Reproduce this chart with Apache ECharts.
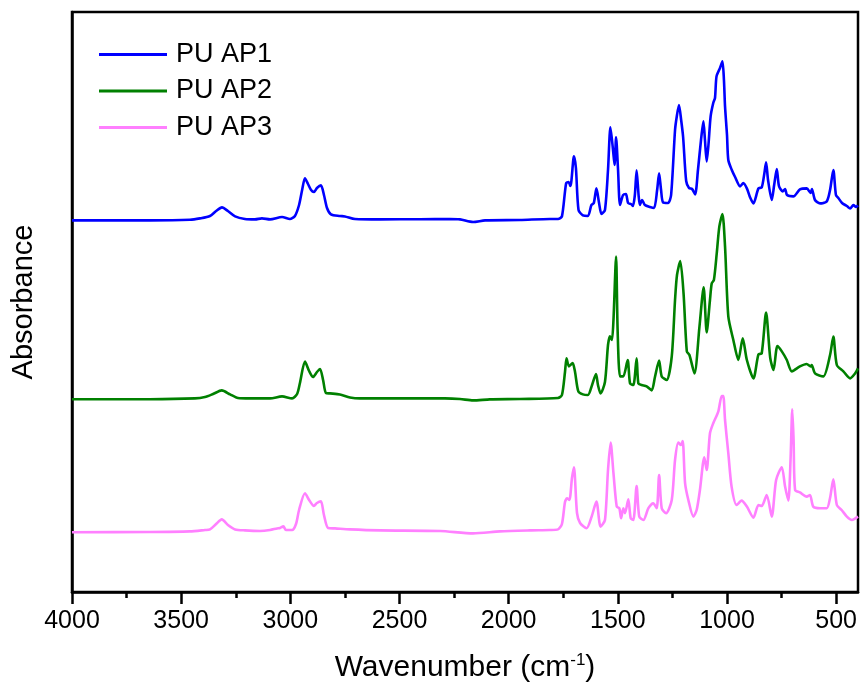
<!DOCTYPE html>
<html>
<head>
<meta charset="utf-8">
<title>FTIR spectra of PU AP1–AP3</title>
<script src="https://cdn.jsdelivr.net/npm/echarts@6/dist/echarts.min.js"></script>
<style>
  html, body { margin: 0; padding: 0; background: #fff; }
  #chart { width: 860px; height: 686px; }
</style>
</head>
<body>
<div id="chart"></div>
<script>
// Wavenumber axis ticks (cm-1)
const majorTicks = [500, 1000, 1500, 2000, 2500, 3000, 3500, 4000];
const minorTicks = [750, 1250, 1750, 2250, 2750, 3250, 3750];

// PU AP1 (stacked, offset absorbance)
const ap1Wn = [4000,3643,3460,3414,3368,3340,3313,3286,3253,3208,3162,3130,3093,3038,3002,2979,2960,2946,2933,2919,2905,2892,2878,2860,2846,2832,2814,2773,2750,2704,2589,2406,2269,2223,2163,2108,1948,1811,1774,1756,1737,1726,1717,1701,1692,1680,1660,1637,1621,1610,1598,1586,1575,1559,1545,1534,1522,1515,1508,1499,1490,1476,1463,1453,1440,1431,1422,1414,1405,1399,1389,1376,1353,1334,1320,1311,1302,1293,1270,1256,1238,1229,1220,1210,1201,1187,1174,1160,1146,1133,1119,1108,1101,1093,1085,1075,1063,1055,1048,1032,1021,1014,1009,1000,994,978,963,940,925,909,895,879,856,841,830,821,812,795,784,772,762,745,734,725,696,666,635,617,611,597,574,543,528,513,501,490,473,451,436,421,409,400];
const ap1Abs = [1.858,1.858,1.861,1.868,1.880,1.905,1.923,1.905,1.878,1.865,1.863,1.868,1.863,1.875,1.865,1.880,1.935,2.010,2.068,2.040,2.010,2.000,2.020,2.033,1.985,1.920,1.888,1.880,1.878,1.865,1.863,1.864,1.865,1.863,1.850,1.858,1.860,1.865,1.865,1.878,2.043,2.050,2.030,2.178,2.120,1.910,1.883,1.880,1.935,1.945,2.018,1.945,1.890,1.910,2.110,2.323,2.210,2.135,2.273,2.110,1.935,1.985,1.990,1.945,1.940,1.930,1.985,2.108,1.985,1.935,1.960,1.935,1.925,1.920,2.010,2.093,2.010,1.948,1.945,1.985,2.310,2.385,2.435,2.360,2.275,2.055,2.020,2.015,1.988,2.110,2.260,2.353,2.260,2.153,2.235,2.378,2.445,2.470,2.578,2.620,2.653,2.560,2.428,2.285,2.160,2.110,2.075,2.028,2.045,2.018,1.975,1.943,2.018,2.023,2.085,2.148,2.060,1.960,2.035,2.115,2.030,2.003,2.015,1.985,1.978,2.013,2.018,1.995,2.015,1.960,1.943,1.953,2.010,2.110,1.985,1.970,1.945,1.930,1.918,1.935,1.925,1.933];

// PU AP2
const ap2Wn = [4000,3643,3437,3391,3354,3314,3276,3240,3185,3093,3038,2992,2969,2956,2933,2914,2896,2878,2864,2850,2837,2818,2773,2727,2681,2498,2292,2223,2163,2086,1948,1774,1756,1742,1735,1724,1707,1696,1681,1660,1637,1618,1600,1591,1579,1559,1545,1536,1527,1520,1508,1501,1490,1475,1455,1444,1429,1414,1406,1391,1368,1345,1330,1311,1299,1276,1253,1238,1229,1214,1199,1184,1172,1149,1126,1107,1093,1078,1070,1060,1047,1035,1021,1009,994,971,948,928,909,879,856,841,821,802,787,769,749,726,703,666,635,617,612,597,559,528,513,497,467,436,413,400];
const ap2Abs = [0.964,0.964,0.968,0.975,0.990,1.008,0.988,0.970,0.968,0.968,0.978,0.968,0.990,1.045,1.152,1.105,1.075,1.100,1.115,1.060,0.995,0.993,0.988,0.973,0.968,0.968,0.968,0.965,0.958,0.963,0.965,0.970,0.985,1.100,1.168,1.128,1.145,1.100,1.003,0.988,0.985,1.035,1.090,1.035,0.993,1.050,1.235,1.278,1.260,1.360,1.677,1.310,1.078,1.078,1.160,1.043,1.035,1.168,1.043,1.035,1.028,1.008,1.075,1.157,1.078,1.060,1.178,1.460,1.585,1.655,1.493,1.203,1.185,1.093,1.328,1.523,1.298,1.460,1.543,1.560,1.693,1.828,1.890,1.728,1.378,1.260,1.160,1.268,1.160,1.068,1.188,1.193,1.397,1.170,1.110,1.230,1.203,1.160,1.103,1.128,1.140,1.128,1.135,1.093,1.078,1.185,1.277,1.135,1.103,1.068,1.093,1.118];

// PU AP3
const ap3Wn = [4000,3643,3460,3391,3368,3340,3314,3286,3253,3208,3139,3093,3061,3047,3032,3020,2992,2974,2960,2933,2914,2892,2878,2860,2846,2827,2795,2727,2589,2314,2163,2040,1902,1811,1774,1756,1742,1733,1722,1710,1701,1687,1673,1643,1620,1598,1579,1559,1545,1533,1520,1505,1493,1485,1475,1467,1452,1441,1429,1414,1402,1383,1360,1338,1322,1311,1299,1279,1253,1238,1223,1211,1203,1192,1177,1154,1139,1124,1104,1093,1078,1063,1040,1024,1017,1009,994,979,956,933,909,879,856,841,818,795,775,749,734,719,709,701,695,688,666,635,620,605,574,543,528,513,497,475,451,428,413,400];
const ap3Abs = [0.299,0.300,0.303,0.310,0.313,0.340,0.363,0.335,0.313,0.308,0.305,0.310,0.318,0.320,0.328,0.310,0.310,0.340,0.410,0.494,0.460,0.430,0.445,0.453,0.385,0.320,0.318,0.313,0.308,0.305,0.293,0.303,0.308,0.310,0.313,0.340,0.450,0.468,0.460,0.570,0.624,0.395,0.345,0.319,0.377,0.452,0.327,0.360,0.610,0.747,0.594,0.427,0.419,0.369,0.419,0.394,0.464,0.369,0.360,0.530,0.377,0.360,0.419,0.444,0.419,0.585,0.419,0.394,0.460,0.660,0.747,0.735,0.755,0.544,0.460,0.377,0.410,0.510,0.674,0.610,0.794,0.844,0.902,0.980,0.980,0.860,0.694,0.527,0.435,0.457,0.427,0.372,0.435,0.430,0.485,0.377,0.560,0.624,0.527,0.457,0.660,0.914,0.760,0.510,0.498,0.477,0.485,0.427,0.419,0.419,0.470,0.564,0.435,0.410,0.377,0.360,0.368,0.377];

const zip = (xs, ys) => xs.map((x, i) => [x, ys[i]]);

const font = "'Liberation Sans', Arial, sans-serif";

const chart = echarts.init(document.getElementById('chart'), null, { renderer: 'canvas' });

const lineSeries = (name, color, wn, ab) => ({
  name: name,
  type: 'line',
  data: zip(wn, ab),
  symbol: 'none',
  smooth: 0.25,
  lineStyle: { color: color, width: 2.6 },
  itemStyle: { color: color },
  animation: false,
  z: 3
});

chart.setOption({
  backgroundColor: '#ffffff',
  animation: false,
  grid: {
    left: 72, right: 2, top: 12, bottom: 94,
    outerBoundsMode: 'none',
    containLabel: false,
    show: true, borderColor: '#000', borderWidth: 2.5, backgroundColor: 'transparent'
  },
  legend: {
    orient: 'vertical',
    left: 94, top: 36,
    icon: 'rect',
    itemWidth: 68, itemHeight: 3,
    itemGap: 9.5,
    textStyle: { fontFamily: font, fontSize: 27, color: '#000', padding: [0, 0, 0, 4] },
    data: ['PU AP1', 'PU AP2', 'PU AP3']
  },
  xAxis: [
    {
      type: 'value',
      inverse: true,
      min: 400, max: 4000,
      position: 'bottom',
      axisLine: { show: true, onZero: false, lineStyle: { color: '#000', width: 2.5 } },
      axisTick: { show: true, inside: false, length: 12, customValues: majorTicks, lineStyle: { color: '#000', width: 2.5 } },
      axisLabel: {
        show: true, customValues: majorTicks, margin: 17,
        formatter: (v) => String(v),
        fontFamily: font, fontSize: 25, color: '#000'
      },
      splitLine: { show: false },
      name: 'Wavenumber (cm{sup|-1})',
      nameLocation: 'middle',
      nameGap: 60,
      nameTextStyle: {
        fontFamily: font, fontSize: 30, color: '#000',
        rich: { sup: { fontFamily: font, fontSize: 17, color: '#000', padding: [0, 0, 14, 0] } }
      }
    },
    {
      type: 'value',
      inverse: true,
      min: 400, max: 4000,
      position: 'bottom',
      axisLine: { show: false },
      axisTick: { show: true, inside: false, length: 6, customValues: minorTicks, lineStyle: { color: '#000', width: 2.5 } },
      axisLabel: { show: false },
      splitLine: { show: false }
    }
  ],
  yAxis: {
    type: 'value',
    min: 0, max: 2.9,
    axisLine: { show: true, onZero: false, lineStyle: { color: '#000', width: 2.5 } },
    axisTick: { show: false },
    axisLabel: { show: false },
    splitLine: { show: false },
    name: 'Absorbance',
    nameLocation: 'middle',
    nameGap: 34,
    nameTextStyle: { fontFamily: font, fontSize: 29, color: '#000' }
  },
  series: [
    lineSeries('PU AP1', '#0000ff', ap1Wn, ap1Abs),
    lineSeries('PU AP2', '#008000', ap2Wn, ap2Abs),
    lineSeries('PU AP3', '#ff80ff', ap3Wn, ap3Abs)
  ]
});
</script>
</body>
</html>
